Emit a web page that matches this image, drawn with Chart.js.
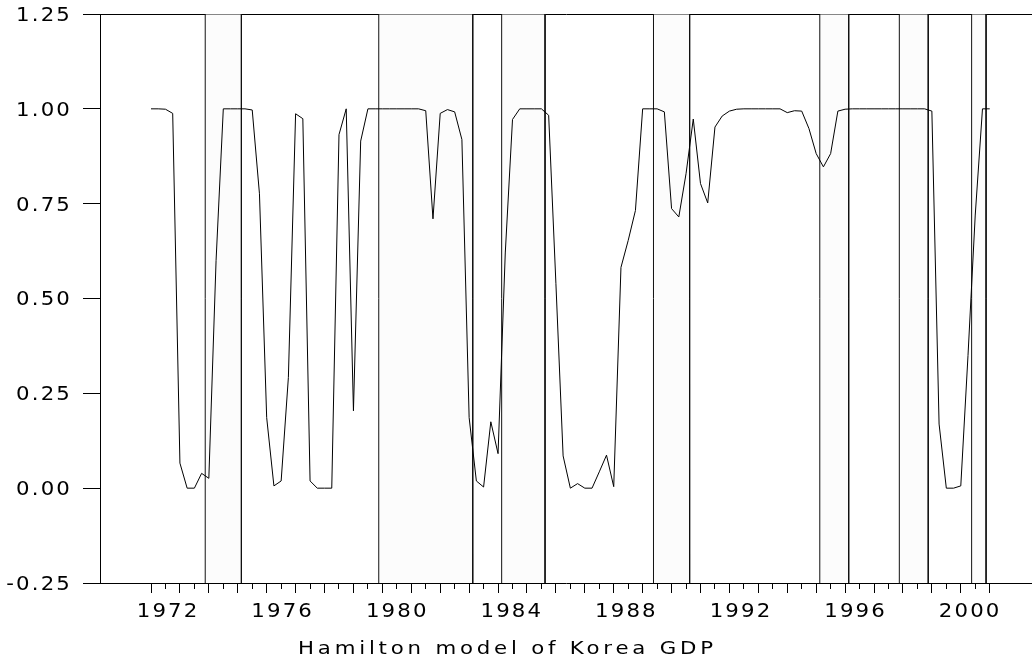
<!DOCTYPE html>
<html><head><meta charset="utf-8">
<script src="https://cdn.jsdelivr.net/npm/chart.js@4.4.1/dist/chart.umd.min.js"></script>
<style>html,body{margin:0;padding:0;background:#fff;} #wrap{width:1032px;height:665px;}</style>
</head><body><div id="wrap"><canvas id="c" width="1032" height="665"></canvas></div>
<script>
// ---- data ----
const startYear = 1972; // first quarter 1972Q1, quarterly data
const probs = [
  1.000, 1.000, 0.999, 0.988, 0.066, 0.000, 0.000, 0.039, 0.026, 0.600,
  1.000, 1.000, 1.000, 1.000, 0.997, 0.776, 0.186, 0.006, 0.019, 0.292,
  0.987, 0.974, 0.019, 0.000, 0.000, 0.000, 0.932, 1.000, 0.204, 0.915,
  1.000, 1.000, 1.000, 1.000, 1.000, 1.000, 1.000, 1.000, 0.995, 0.710,
  0.988, 0.998, 0.992, 0.919, 0.186, 0.019, 0.003, 0.175, 0.091, 0.620,
  0.972, 1.000, 1.000, 1.000, 1.000, 0.983, 0.540, 0.085, 0.000, 0.012,
  0.000, 0.000, 0.043, 0.087, 0.004, 0.582, 0.653, 0.732, 1.000, 1.000,
  1.000, 0.992, 0.737, 0.715, 0.829, 0.973, 0.803, 0.752, 0.952, 0.981,
  0.994, 0.999, 1.000, 1.000, 1.000, 1.000, 1.000, 1.000, 0.990, 0.995,
  0.994, 0.948, 0.882, 0.847, 0.882, 0.994, 0.999, 1.000, 1.000, 1.000,
  1.000, 1.000, 1.000, 1.000, 1.000, 1.000, 1.000, 1.000, 0.994, 0.169,
  0.000, 0.000, 0.006, 0.350, 0.720, 1.000, 1.000
];
// shaded periods: first and last quarter (as year fractions) of each period
const shadedStart = [1974.00, 1980.00, 1984.25, 1989.50, 1995.25, 1998.00, 2000.50];
const shadedEnd   = [1975.00, 1983.00, 1985.50, 1990.50, 1996.00, 1998.75, 2000.75];
const yearLabels = ['1972', '1976', '1980', '1984', '1988', '1992', '1996', '2000'];
const yTickValues = [-0.25, 0.00, 0.25, 0.50, 0.75, 1.00, 1.25];
const titleText = 'Hamilton model of Korea GDP';

// ---- derived ----
const Q = 0.25;
const lineData = probs.map((p, i) => ({ x: startYear + i * Q, y: p }));
const yMin = yTickValues[0], yMax = yTickValues[yTickValues.length - 1];

const shadeSets = shadedStart.map((s, k) => {
  const a = s - Q / 2, b = shadedEnd[k] + Q / 2;
  return {
    type: 'line',
    data: [{ x: a, y: yMin }, { x: a, y: yMax }, { x: b, y: yMax }, { x: b, y: yMin }],
    borderColor: '#111', borderWidth: 1, backgroundColor: '#fcfcfc',
    fill: 'start', pointRadius: 0, tension: 0, order: 2, xAxisID: 'x', yAxisID: 'y'
  };
});

// x tick specs: half-year tick marks + year labels
const lastYear = startYear + (probs.length - 1) * Q;
const xTickSpecs = [];
for (let v = startYear; v <= lastYear + 1e-9; v += 0.5) {
  xTickSpecs.push({ value: v, label: '', kind: (Math.abs(v - Math.round(v)) < 1e-9) ? 'major' : 'minor' });
}
yearLabels.forEach(l => {
  const yr = +l;
  xTickSpecs.push({ value: 1972.591 + (yr - 1972) * 0.99043, label: l, kind: 'label' });
});
xTickSpecs.sort((a, b) => a.value - b.value);

const FONT = 'DejaVu Sans';

// wide (horizontally stretched, letter-spaced) text, like the reference font
const wideText = {
  id: 'wideText',
  beforeInit(chart) {
    const c = chart.ctx;
    if (c.__wide) return;
    const orig = c.fillText.bind(c);
    c.__sx = 1;
    c.fillText = function (t, x, y, mw) {
      const sx = c.__sx || 1;
      if (sx === 1) { return mw === undefined ? orig(t, x, y) : orig(t, x, y, mw); }
      c.save(); c.translate(x, y); c.scale(sx, 1);
      if (mw === undefined) orig(t, 0, 0); else orig(t, 0, 0, mw / sx);
      c.restore();
    };
    c.__wide = true;
  },
  afterLayout(chart) {
    const tb = chart.titleBlock;
    if (tb) {
      tb.left = -17.2; tb.right = chart.width;
      if (!tb.__wrapped) {
        const orig = tb.draw.bind(tb);
        tb.draw = function () {
          const c = chart.ctx; const pl = c.letterSpacing, ps = c.__sx;
          c.letterSpacing = '3.3px'; c.__sx = 1.15; orig();
          c.letterSpacing = pl; c.__sx = ps;
        };
        tb.__wrapped = true;
      }
    }
  },
  beforeDraw(chart) { chart.ctx.letterSpacing = '1.9px'; chart.ctx.__sx = 1.12; },
  afterDraw(chart) { chart.ctx.__sx = 1; chart.ctx.letterSpacing = '0px'; }
};

new Chart(document.getElementById('c'), {
  data: {
    datasets: [
      {
        type: 'line', data: lineData, borderColor: '#000', borderWidth: 1,
        pointRadius: 0, fill: false, tension: 0, order: 1, xAxisID: 'x', yAxisID: 'y'
      },
      ...shadeSets
    ]
  },
  options: {
    responsive: false, devicePixelRatio: 1, animation: false, events: [],
    layout: { padding: { top: 14, left: 0, right: 0, bottom: 0 } },
    plugins: {
      legend: { display: false }, tooltip: { enabled: false },
      title: {
        display: true, position: 'bottom', text: titleText, color: '#000',
        font: { family: FONT, size: 18.5, weight: 'normal' },
        padding: { top: 0, bottom: 4.8 }
      }
    },
    scales: {
      x: {
        type: 'linear', position: 'bottom', min: 1970.2365, max: 2002.4625,
        afterBuildTicks(s) { s.ticks = xTickSpecs.map(t => ({ value: t.value })); },
        afterFit(s) { s.height = 55; s.paddingLeft = 0; s.paddingRight = 0; },
        ticks: {
          autoSkip: false, maxRotation: 0, minRotation: 0, padding: 7.6, color: '#000',
          font: { family: FONT, size: 19 },
          callback: (v, i) => (xTickSpecs[i] ? xTickSpecs[i].label : '')
        },
        grid: {
          drawOnChartArea: false, drawTicks: true, tickLength: 10, tickWidth: 1,
          tickColor: (ctx) => (xTickSpecs[ctx.index] && xTickSpecs[ctx.index].kind === 'label') ? 'rgba(0,0,0,0)' : '#000',
          tickBorderDash: (ctx) => (xTickSpecs[ctx.index] && xTickSpecs[ctx.index].kind === 'minor') ? [5, 40] : []
        },
        border: { display: true, color: '#000', width: 1 }
      },
      x2: {
        type: 'linear', position: 'top', display: true,
        afterFit(s) { s.height = 0; s.paddingLeft = 0; s.paddingRight = 0; },
        ticks: { display: false },
        grid: { display: false, drawTicks: false },
        border: { display: true, color: '#000', width: 1 }
      },
      y: {
        type: 'linear', position: 'left', min: yMin, max: yMax,
        afterBuildTicks(s) { s.ticks = yTickValues.map(v => ({ value: v })); },
        afterFit(s) { s.width = 100; s.paddingTop = 0; s.paddingBottom = 0; },
        ticks: {
          padding: 11, color: '#000', labelOffset: 2,
          font: { family: FONT, size: 19 },
          callback: (v) => Number(v).toFixed(2)
        },
        grid: { drawOnChartArea: false, drawTicks: true, tickLength: 17, tickColor: '#000', tickWidth: 1 },
        border: { display: true, color: '#000', width: 1 }
      }
    }
  },
  plugins: [wideText]
});
</script>
</body></html>
